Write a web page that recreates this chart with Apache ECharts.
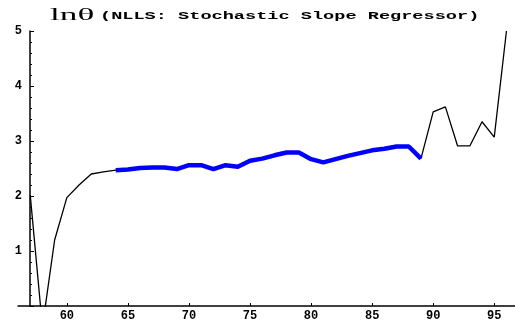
<!DOCTYPE html>
<html>
<head>
<meta charset="utf-8">
<script src="https://cdn.jsdelivr.net/npm/echarts@6/dist/echarts.min.js"></script>
<style>
  html, body { margin: 0; padding: 0; background: #fff; }
  #chart { width: 515px; height: 334px; }
</style>
</head>
<body>
<div id="chart"></div>
<script>
// Years (19xx) and the estimated log-theta path
const years = [57, 58, 59, 60, 61, 62, 63, 64, 65, 66, 67, 68, 69, 70, 71, 72, 73, 74, 75, 76,
               77, 78, 79, 80, 81, 82, 83, 84, 85, 86, 87, 88, 89, 90, 91, 92, 93, 94, 95, 96];
const lnTheta = [2.02, -0.38, 1.20, 1.97, 2.20, 2.40, 2.44, 2.47, 2.48, 2.51, 2.52, 2.52, 2.49, 2.56, 2.56, 2.49, 2.56, 2.53, 2.64, 2.68,
                 2.74, 2.79, 2.79, 2.67, 2.61, 2.67, 2.73, 2.78, 2.83, 2.86, 2.90, 2.90, 2.68, 3.53, 3.62, 2.91, 2.91, 3.35, 3.07, 5.00];
// Highlighted stretch of years
const highlightStart = 64;
const highlightEnd = 89;
// Tick labels
const xTicks = [60, 65, 70, 75, 80, 85, 90, 95];
const yTicks = [1, 2, 3, 4, 5];

const fullPath = years.map((y, i) => [y, lnTheta[i]]);
const highlightPath = fullPath.filter(p => p[0] >= highlightStart && p[0] <= highlightEnd);

const tickFont = { fontFamily: 'Liberation Mono', fontWeight: 'bold', fontSize: 12, color: '#000' };

const chart = echarts.init(document.getElementById('chart'), null, { renderer: 'canvas' });
chart.setOption({
  animation: false,
  backgroundColor: '#fff',
  grid: { left: 18, right: 0, top: 31, bottom: 28, containLabel: false },
  graphic: [
    {
      type: 'text', x: 50, y: 16, scaleX: 2.2,
      style: { text: 'lnθ', font: '16px "Liberation Serif"', fill: '#000', verticalAlign: 'middle' }
    },
    {
      type: 'text', x: 100, y: 16, scaleX: 1.69,
      style: { text: '(NLLS: Stochastic Slope Regressor)', font: 'bold 11px "Liberation Mono"', fill: '#000', verticalAlign: 'middle' }
    }
  ],
  xAxis: {
    type: 'value',
    min: 56,
    max: 96.7,
    splitLine: { show: false },
    axisLine: { show: true, lineStyle: { color: '#000', width: 1.5 } },
    axisTick: { show: true, inside: true, length: 3, customValues: xTicks, lineStyle: { color: '#000' } },
    axisLabel: Object.assign({ customValues: xTicks, margin: 4 }, tickFont)
  },
  yAxis: {
    type: 'value',
    min: 0,
    max: 5,
    interval: 1,
    position: 'left',
    offset: -12,
    splitLine: { show: false },
    axisLine: { show: true, onZero: false, lineStyle: { color: '#000', width: 1.5 } },
    axisTick: { show: true, inside: true, length: 4, lineStyle: { color: '#000' } },
    minorTick: { show: true, splitNumber: 5, length: 2, lineStyle: { color: '#000' } },
    axisLabel: Object.assign({ customValues: yTicks, margin: 8 }, tickFont)
  },
  series: [
    {
      type: 'line',
      data: fullPath,
      showSymbol: false,
      symbol: 'none',
      clip: true,
      lineStyle: { color: '#000', width: 1.3 },
      z: 2
    },
    {
      type: 'line',
      data: highlightPath,
      showSymbol: false,
      symbol: 'none',
      clip: true,
      lineStyle: { color: '#0000ff', width: 4.5 },
      z: 3
    }
  ]
});
</script>
</body>
</html>
